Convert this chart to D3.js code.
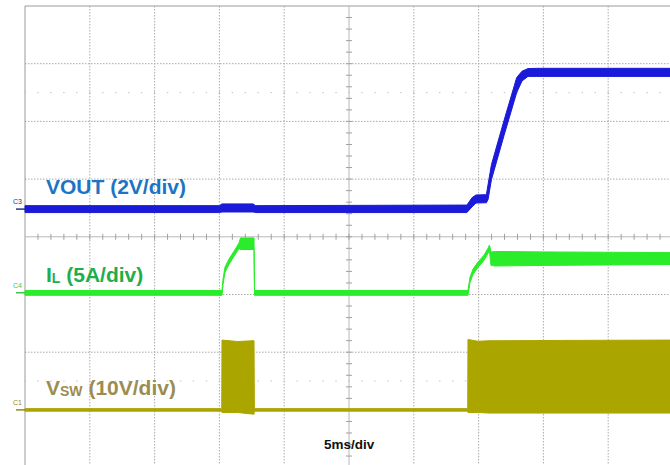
<!DOCTYPE html>
<html>
<head>
<meta charset="utf-8">
<script src="https://cdn.jsdelivr.net/npm/d3@7"></script>
<style>
  body { margin: 0; background: #fff; }
  svg { display: block; font-family: "Liberation Sans", Arial, sans-serif; }
</style>
</head>
<body>
<div id="scope"></div>
<script>
  "use strict";

  // time in ms (5 ms/div, 10 divisions)
  var voutT  = [0, 15.0, 15.2, 17.6, 17.8, 34.1, 34.5, 34.8, 35.6, 35.73, 35.99, 36.96, 37.94, 38.35, 38.81, 39.5, 50];
  var voutLo = [-0.12, -0.12, -0.10, -0.10, -0.12, -0.12, 0.08, 0.21, 0.22, 0.33, 1.02, 2.55, 4.04, 4.44, 4.6, 4.6, 4.6];
  var voutHi = [0.12, 0.12, 0.18, 0.18, 0.12, 0.14, 0.40, 0.49, 0.50, 0.85, 1.54, 3.07, 4.56, 4.78, 4.87, 4.88, 4.88];

  var ilT  = [0, 15.2, 15.28, 15.43, 15.74, 16.13, 16.51, 16.63, 17.67, 17.71, 34.18, 34.34, 34.57, 34.95, 35.42, 35.73, 35.84, 35.96, 36.3, 40, 50];
  var ilLo = [-0.22, -0.22, 0.72, 1.76, 2.46, 3.15, 3.82, 3.75, 3.75, -0.22, -0.22, 0.90, 1.59, 2.20, 2.80, 3.41, 3.62, 2.36, 2.32, 2.37, 2.45];
  var ilHi = [0.20, 0.20, 1.18, 2.22, 2.92, 3.61, 4.30, 4.75, 4.75, 0.20, 0.20, 1.36, 2.05, 2.66, 3.26, 3.87, 4.13, 3.53, 3.58, 3.54, 3.48];

  var vswT  = [0, 15.18, 15.2, 16.4, 17.67, 17.7, 34.16, 34.18, 34.95, 35.8, 41.3, 50];
  var vswLo = [-0.22, -0.22, -0.45, -0.45, -0.75, -0.22, -0.22, -0.45, -0.45, -0.55, -0.55, -0.55];
  var vswHi = [0.22, 0.22, 12.1, 11.85, 12.0, 0.22, 0.22, 12.2, 11.9, 11.98, 12.04, 12.1];

  var timeDivs = [0, 5, 10, 15, 20, 25, 30, 35, 40, 45, 50];
  var levelDivs = [-4, -3, -2, -1, 0, 1, 2, 3, 4];

  var width = 670, height = 465;
  var x = d3.scaleLinear().domain([0, 50]).range([25, 673]);
  var yDiv = d3.scaleLinear().domain([-4, 4]).range([467.6, 6]);

  // channel: offset in divisions, units per division
  function chanScale(offset, perDiv) {
    return function (v) { return yDiv(offset + v / perDiv); };
  }

  var channels = [
    { name: "C3", t: voutT, lo: voutLo, hi: voutHi, y: chanScale(0.48, 2), trace: "#1a1ad8", mark: "#22338a" },
    { name: "C4", t: ilT, lo: ilLo, hi: ilHi, y: chanScale(-0.97, 5), trace: "#2aec2a", mark: "#44c844" },
    { name: "C1", t: vswT, lo: vswLo, hi: vswHi, y: chanScale(-3.0, 10), trace: "#aba500", mark: "#8f8a1a" }
  ];

  var svg = d3.select("#scope").append("svg")
      .attr("width", width)
      .attr("height", height);

  var grid = svg.append("g").attr("class", "grid");

  // dotted graticule
  grid.selectAll("line.v")
    .data(timeDivs.filter(function (d) { return d !== 0 && d !== 25; }))
    .enter().append("line")
      .attr("class", "v")
      .attr("x1", function (d) { return x(d); })
      .attr("x2", function (d) { return x(d); })
      .attr("y1", yDiv(4)).attr("y2", yDiv(-4))
      .attr("stroke", "#ababab")
      .attr("stroke-dasharray", "1.5,1.5");

  grid.selectAll("line.h")
    .data(levelDivs.filter(function (d) { return d !== 0 && d !== 4; }))
    .enter().append("line")
      .attr("class", "h")
      .attr("x1", x(0)).attr("x2", x(50))
      .attr("y1", function (d) { return yDiv(d); })
      .attr("y2", function (d) { return yDiv(d); })
      .attr("stroke", "#ababab")
      .attr("stroke-dasharray", "1.5,1.5");

  // faint half-division rows
  grid.selectAll("line.half")
    .data([2.5, -2.5])
    .enter().append("line")
      .attr("class", "half")
      .attr("x1", x(0)).attr("x2", x(50))
      .attr("y1", function (d) { return yDiv(d); })
      .attr("y2", function (d) { return yDiv(d); })
      .attr("stroke", "#c4c4c4")
      .attr("stroke-dasharray", "1.5,11.46")
      .attr("stroke-dashoffset", 0.75);

  // frame (top and left edges)
  grid.append("line")
    .attr("x1", x(0)).attr("x2", x(50))
    .attr("y1", yDiv(4)).attr("y2", yDiv(4))
    .attr("stroke", "#9a9a9a");
  grid.append("line")
    .attr("x1", x(0)).attr("x2", x(0))
    .attr("y1", yDiv(4)).attr("y2", yDiv(-4))
    .attr("stroke", "#9a9a9a");

  // center axes with minor ticks
  grid.append("line")
    .attr("x1", x(0)).attr("x2", x(50))
    .attr("y1", yDiv(0)).attr("y2", yDiv(0))
    .attr("stroke", "#b8b8b8");
  grid.append("line")
    .attr("x1", x(25)).attr("x2", x(25))
    .attr("y1", yDiv(4)).attr("y2", yDiv(-4))
    .attr("stroke", "#b8b8b8");

  grid.selectAll("line.tx")
    .data(d3.range(1, 50))
    .enter().append("line")
      .attr("class", "tx")
      .attr("x1", function (d) { return x(d); })
      .attr("x2", function (d) { return x(d); })
      .attr("y1", yDiv(0) - 3).attr("y2", yDiv(0) + 3)
      .attr("stroke", "#a0a0a0");

  grid.selectAll("line.ty")
    .data(d3.range(-20, 20).map(function (d) { return d / 5; }))
    .enter().append("line")
      .attr("class", "ty")
      .attr("x1", x(25) - 3).attr("x2", x(25) + 3)
      .attr("y1", function (d) { return yDiv(d); })
      .attr("y2", function (d) { return yDiv(d); })
      .attr("stroke", "#a0a0a0");

  // traces as min/max envelopes
  channels.forEach(function (c) {
    var pts = c.t.map(function (t, i) { return { t: t, lo: c.lo[i], hi: c.hi[i] }; });
    var area = d3.area()
      .x(function (d) { return x(d.t); })
      .y0(function (d) { return c.y(d.lo); })
      .y1(function (d) { return c.y(d.hi); });

    svg.append("path")
      .datum(pts)
      .attr("d", area)
      .attr("fill", c.trace)
      .attr("stroke", c.trace)
      .attr("stroke-width", 1)
      .attr("stroke-linejoin", "round");

    // channel ground marker
    svg.append("line")
      .attr("x1", 16).attr("x2", 25)
      .attr("y1", c.y(0)).attr("y2", c.y(0))
      .attr("stroke", c.mark)
      .attr("stroke-width", 1.5);
    svg.append("text")
      .attr("x", 13).attr("y", c.y(0) - 5)
      .attr("font-size", 7)
      .attr("fill", c.mark)
      .text(c.name);
  });

  // labels
  svg.append("text")
    .attr("x", 46).attr("y", 194)
    .attr("font-size", 21).attr("font-weight", "bold")
    .attr("fill", "#1d74c4")
    .text("VOUT (2V/div)");

  var il = svg.append("text")
    .attr("x", 46).attr("y", 281.5)
    .attr("font-size", 21).attr("font-weight", "bold")
    .attr("fill", "#1fae4a");
  il.append("tspan").text("I");
  il.append("tspan").attr("font-size", 14).attr("dy", 1).text("L");
  il.append("tspan").attr("dy", -1).text(" (5A/div)");

  var vsw = svg.append("text")
    .attr("x", 46).attr("y", 395)
    .attr("font-size", 21).attr("font-weight", "bold")
    .attr("fill", "#9b8d50");
  vsw.append("tspan").text("V");
  vsw.append("tspan").attr("font-size", 14).attr("dy", 1).text("SW");
  vsw.append("tspan").attr("dy", -1).text(" (10V/div)");

  svg.append("text")
    .attr("x", 324).attr("y", 449)
    .attr("font-size", 13.5).attr("font-weight", "bold")
    .attr("fill", "#111")
    .text("5ms/div");
</script>
</body>
</html>
